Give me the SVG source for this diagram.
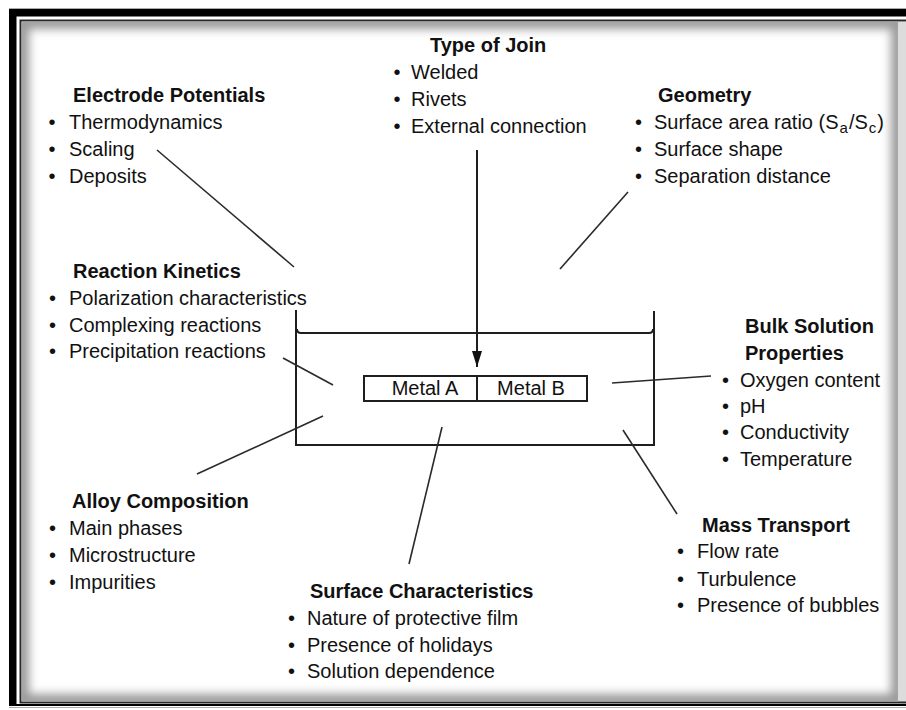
<svg xmlns="http://www.w3.org/2000/svg" width="906" height="710" viewBox="0 0 906 710">
<defs>
<style>
text{font-family:"Liberation Sans",Arial,sans-serif;font-size:20px;fill:#111}
.t{font-weight:bold}
.c{stroke:#2a2a2a;stroke-width:1.6;fill:none}
.w{stroke:#1e1e1e;stroke-width:2;fill:none}
</style>
<marker id="ah" viewBox="0 0 10 16" refX="5" refY="16" markerWidth="10" markerHeight="16" markerUnits="userSpaceOnUse" orient="0">
<path d="M0,0 L10,0 L5,16 z" fill="#111"/>
</marker>
<clipPath id="inner"><rect x="22" y="22" width="876" height="679"/></clipPath>
<filter id="blur" x="-10%" y="-10%" width="120%" height="120%"><feGaussianBlur stdDeviation="5"/></filter>
</defs>
<rect x="0" y="0" width="906" height="710" fill="#fff"/>
<g id="frame">
<rect x="9" y="8" width="897" height="1" fill="#aaa"/>
<rect x="898" y="22" width="8" height="680" fill="#dcdcdc"/>
<g clip-path="url(#inner)">
<rect x="22" y="22" width="876" height="679" fill="none" stroke="#9a9a9a" stroke-width="14" filter="url(#blur)"/>
</g>
<path d="M9,9 H906 V16.5 H16.5 V706 H9 Z" fill="#000"/>
<path d="M906,20.5 H20.5 V702.5 H906" fill="none" stroke="#2a2a2a" stroke-width="2"/>
<rect x="9" y="704" width="897" height="2" fill="#000"/>
<rect x="9" y="707" width="897" height="1" fill="#aaa"/>
</g>
<g id="tank">
<path class="w" d="M296,310 V445 H654 V311"/>
<path class="w" d="M297,329 Q297,333 301,333 H649 Q653,333 653,329"/>
</g>
<g id="metals">
<rect class="w" x="364" y="376" width="223" height="25"/>
<line class="w" x1="477" y1="376" x2="477" y2="401"/>
<text x="425" y="395" text-anchor="middle">Metal A</text>
<text x="531" y="395" text-anchor="middle">Metal B</text>
</g>
<g id="connectors">
<line x1="477" y1="150" x2="477" y2="367" stroke="#1e1e1e" stroke-width="2" marker-end="url(#ah)"/>
<line class="c" x1="157" y1="150" x2="294" y2="267"/>
<line class="c" x1="628" y1="192" x2="560" y2="269"/>
<line class="c" x1="283" y1="358" x2="333" y2="385"/>
<line class="c" x1="197" y1="474" x2="323" y2="416"/>
<line class="c" x1="409" y1="564" x2="442" y2="427"/>
<line class="c" x1="612" y1="383" x2="711" y2="376"/>
<line class="c" x1="623" y1="430" x2="677" y2="514"/>
</g>
<g id="type-of-join">
<text class="t" x="430" y="52">Type of Join</text>
<text y="79"><tspan x="393.5">•</tspan><tspan x="411">Welded</tspan></text>
<text y="106"><tspan x="393.5">•</tspan><tspan x="411">Rivets</tspan></text>
<text y="133"><tspan x="393.5">•</tspan><tspan x="411">External connection</tspan></text>
</g>
<g id="electrode-potentials">
<text class="t" x="73" y="102">Electrode Potentials</text>
<text y="129"><tspan x="48.5">•</tspan><tspan x="69">Thermodynamics</tspan></text>
<text y="156"><tspan x="48.5">•</tspan><tspan x="69">Scaling</tspan></text>
<text y="183"><tspan x="48.5">•</tspan><tspan x="69">Deposits</tspan></text>
</g>
<g id="geometry">
<text class="t" x="658" y="102">Geometry</text>
<text y="129"><tspan x="635">•</tspan><tspan x="654">Surface area ratio (S</tspan><tspan dx="1" dy="4" font-size="15">a</tspan><tspan dx="1" dy="-4">/S</tspan><tspan dx="1" dy="4" font-size="15">c</tspan><tspan dx="1" dy="-4">)</tspan></text>
<text y="156"><tspan x="635">•</tspan><tspan x="654">Surface shape</tspan></text>
<text y="183"><tspan x="635">•</tspan><tspan x="654">Separation distance</tspan></text>
</g>
<g id="reaction-kinetics">
<text class="t" x="73" y="278">Reaction Kinetics</text>
<text y="305"><tspan x="49">•</tspan><tspan x="69">Polarization characteristics</tspan></text>
<text y="332"><tspan x="49">•</tspan><tspan x="69">Complexing reactions</tspan></text>
<text y="358"><tspan x="49">•</tspan><tspan x="69">Precipitation reactions</tspan></text>
</g>
<g id="bulk-solution-properties">
<text class="t" x="745" y="333">Bulk Solution</text>
<text class="t" x="745" y="360">Properties</text>
<text y="387"><tspan x="722">•</tspan><tspan x="740">Oxygen content</tspan></text>
<text y="413"><tspan x="722">•</tspan><tspan x="740">pH</tspan></text>
<text y="439"><tspan x="722">•</tspan><tspan x="740">Conductivity</tspan></text>
<text y="466"><tspan x="722">•</tspan><tspan x="740">Temperature</tspan></text>
</g>
<g id="alloy-composition">
<text class="t" x="72" y="508">Alloy Composition</text>
<text y="535"><tspan x="49">•</tspan><tspan x="69">Main phases</tspan></text>
<text y="562"><tspan x="49">•</tspan><tspan x="69">Microstructure</tspan></text>
<text y="589"><tspan x="49">•</tspan><tspan x="69">Impurities</tspan></text>
</g>
<g id="mass-transport">
<text class="t" x="702" y="532">Mass Transport</text>
<text y="558"><tspan x="677">•</tspan><tspan x="697">Flow rate</tspan></text>
<text y="586"><tspan x="677">•</tspan><tspan x="697">Turbulence</tspan></text>
<text y="612"><tspan x="677">•</tspan><tspan x="697">Presence of bubbles</tspan></text>
</g>
<g id="surface-characteristics">
<text class="t" x="310" y="598">Surface Characteristics</text>
<text y="625"><tspan x="288">•</tspan><tspan x="307">Nature of protective film</tspan></text>
<text y="652"><tspan x="288">•</tspan><tspan x="307">Presence of holidays</tspan></text>
<text y="678"><tspan x="288">•</tspan><tspan x="307">Solution dependence</tspan></text>
</g>
</svg>
